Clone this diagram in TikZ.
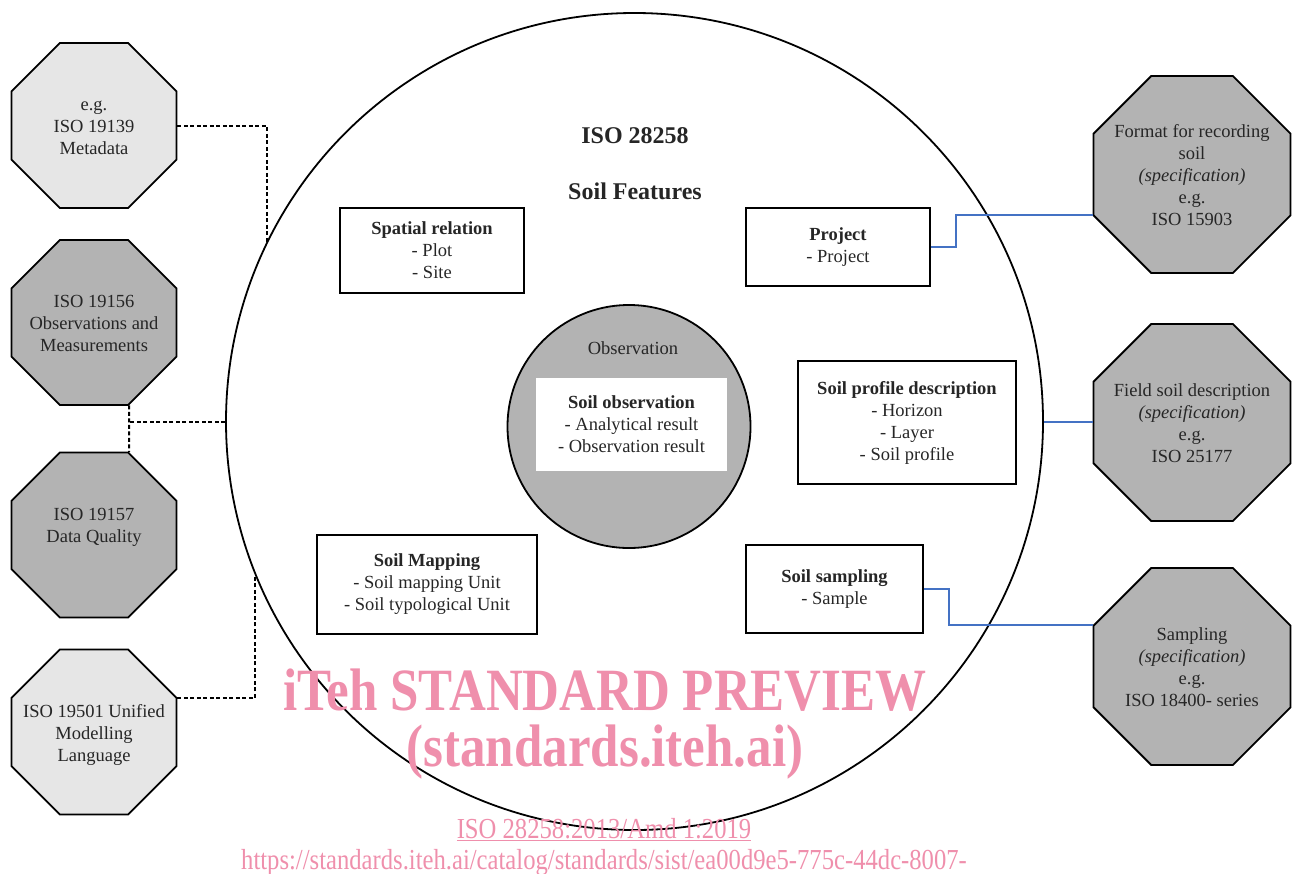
\documentclass[tikz,border=0pt]{standalone}
\usepackage{fontspec}
\setmainfont{Liberation Serif}
\usetikzlibrary{shapes.geometric}

\definecolor{lite}{HTML}{E6E6E6}
\definecolor{mid}{HTML}{B3B3B3}
\definecolor{ink}{HTML}{262626}
\definecolor{wire}{HTML}{4472C4}
\definecolor{wmpink}{HTML}{EF8FAC}

\newcommand{\octtext}[1]{\makebox[0pt]{\raisebox{-3pt}[\height][\depth]{\begin{tabular}{@{}c@{}}#1\end{tabular}}}}

\begin{document}
\begin{tikzpicture}[x=1pt,y=-1pt,
	oct/.style={draw, line width=1.8pt, regular polygon, regular polygon sides=8, inner sep=0pt, text=ink, font=\fontsize{18.5}{22}\selectfont},
	small/.style={oct, minimum size=178.6pt},
	big/.style={oct, minimum size=213.2pt},
	box/.style={draw, line width=1.8pt, rectangle, align=center, inner sep=0pt, text=ink, font=\fontsize{18.5}{22}\selectfont},
	dots/.style={line width=2pt, dash pattern=on 4pt off 2.5pt},
	link/.style={draw=wire, line width=2pt},
	wm/.style={text=wmpink, inner sep=0pt}]
	\useasboundingbox (0,0) rectangle (1300,873);
	\node[draw, circle, line width=1.8pt, minimum size=817pt, inner sep=0pt] (feat) at (634.5,421.5) {};
	\node[text=ink, font=\fontsize{24}{28}\selectfont\bfseries] (iso) at (635,136) {ISO 28258};
	\node[text=ink, font=\fontsize{24}{28}\selectfont\bfseries] (title) at (635,191) {Soil Features};
	\node[box, minimum width=184pt, minimum height=85pt] (spat) at (432,250.5) {\textbf{Spatial relation}\\- Plot\\- Site};
	\node[box, minimum width=184pt, minimum height=78pt] (proj) at (838,247) {\textbf{Project}\\- Project};
	\node[box, minimum width=218pt, minimum height=123pt] (prof) at (907,422.5) {\textbf{Soil profile description}\\- Horizon\\- Layer\\- Soil profile};
	\node[box, minimum width=220pt, minimum height=99pt] (map) at (427,584.5) {\textbf{Soil Mapping}\\- Soil mapping Unit\\- Soil typological Unit};
	\node[box, minimum width=177pt, minimum height=88pt] (samp) at (834.5,589) {\textbf{Soil sampling}\\- Sample};
	\node[draw, circle, fill=mid, line width=1.8pt, minimum size=243pt, inner sep=0pt] (obs) at (629,426.5) {};
	\node[text=ink, font=\fontsize{18.5}{22}\selectfont] (obst) at (633,348) {Observation};
	\node[box, draw=none, fill=white, minimum width=191pt, minimum height=93pt] (soilobs) at (631.5,424.5) {\textbf{Soil observation}\\- Analytical result\\- Observation result};
	\node[small, fill=lite] (o1) at (94,125.5) {\octtext{e.g.\\ISO 19139\\Metadata}};
	\node[small, fill=mid] (o2) at (94,322.5) {\octtext{ISO 19156\\Observations and\\Measurements}};
	\node[small, fill=mid] (o3) at (94,535) {\octtext{ISO 19157\\Data Quality\\ \mbox{}}};
	\node[small, fill=lite] (o4) at (94,732) {\octtext{ISO 19501 Unified\\Modelling\\Language}};
	\node[big, fill=mid] (r1) at (1192,174.5) {\octtext{Format for recording\\soil\\\textit{(specification)}\\e.g.\\ISO 15903}};
	\node[big, fill=mid] (r2) at (1192,422.5) {\octtext{Field soil description\\\textit{(specification)}\\e.g.\\ISO 25177}};
	\node[big, fill=mid] (r3) at (1192,666.5) {\octtext{Sampling\\\textit{(specification)}\\e.g.\\ISO 18400- series}};
	\draw[dots] (o1.east) -| (feat.154);
	\draw[dots] (o2.-67.5) -- (o3.67.5);
	\draw[dots] (feat.west) -- (o2.-67.5 |- feat.west);
	\draw[dots] (o4.22.5) -| (feat.202);
	\draw[link] (proj.east) -- ++(25,0) |- (r1.202.5);
	\draw[link] (feat.east) -- (feat.east -| r2.west);
	\draw[link] (samp.east) -- ++(25,0) |- (r3.157.5);
	\node[wm, font=\fontsize{60}{60}\selectfont\bfseries] (wm1) at (605,690) {\scalebox{0.85}[1]{iTeh STANDARD PREVIEW}};
	\node[wm, font=\fontsize{60}{60}\selectfont\bfseries] (wm2) at (605,752) {\scalebox{0.85}[1]{(standards.iteh.ai)}};
	\node[wm, anchor=base, font=\fontsize{29}{29}\selectfont] (wm3) at (604,838) {\scalebox{0.85}[1]{\underline{ISO 28258:2013/Amd 1:2019}}};
	\node[wm, anchor=base, font=\fontsize{29}{29}\selectfont] (wm4) at (604,869) {\scalebox{0.85}[1]{https://standards.iteh.ai/catalog/standards/sist/ea00d9e5-775c-44dc-8007-}};
\end{tikzpicture}
\end{document}
